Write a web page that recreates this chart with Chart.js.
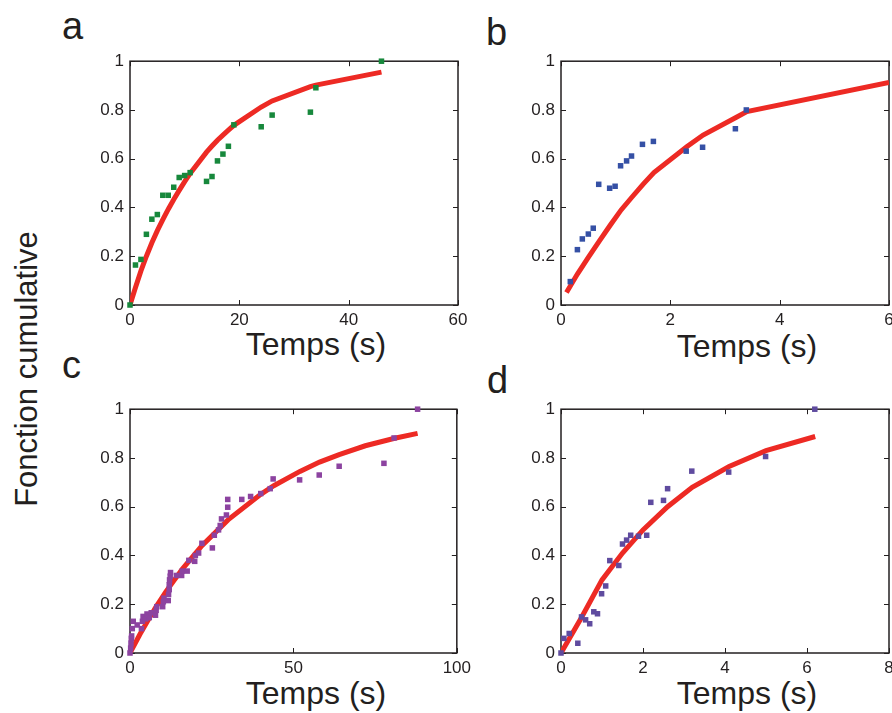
<!DOCTYPE html>
<html>
<head>
<meta charset="utf-8">
<script src="https://cdn.jsdelivr.net/npm/chart.js@4/dist/chart.umd.min.js"></script>
<style>
  body { margin: 0; width: 892px; height: 713px; overflow: hidden; background: #fff; font-family: 'Liberation Sans', Arial, sans-serif; color: #231f20; }
  .panel { position: absolute; }
  .letter { position: absolute; font-size: 38px; line-height: 1; }
  .xlab { position: absolute; width: 200px; margin-left: -100px; text-align: center; font-size: 32px; line-height: 1; }
  #ylab { position: absolute; left: 26px; top: 369px; font-size: 31px; line-height: 1; white-space: nowrap; transform: translate(-50%, -50%) rotate(-90deg); }
</style>
</head>
<body>
<div class="letter" style="left:62px;top:7px">a</div>
<div class="letter" style="left:486px;top:13px">b</div>
<div class="letter" style="left:62px;top:346px">c</div>
<div class="letter" style="left:487px;top:361px">d</div>
<div id="ylab">Fonction cumulative</div>
<div class="xlab" style="left:316px;top:328px">Temps (s)</div>
<div class="xlab" style="left:747px;top:330px">Temps (s)</div>
<div class="xlab" style="left:316px;top:677px">Temps (s)</div>
<div class="xlab" style="left:747px;top:677px">Temps (s)</div>

<div class="panel" style="left:90px;top:45px"><canvas id="chart-a" width="386" height="290"></canvas></div>
<div class="panel" style="left:521px;top:45px"><canvas id="chart-b" width="386" height="290"></canvas></div>
<div class="panel" style="left:90px;top:393px"><canvas id="chart-c" width="386" height="290"></canvas></div>
<div class="panel" style="left:521px;top:393px"><canvas id="chart-d" width="386" height="290"></canvas></div>

<script>
// panel a - measured points
const timeA = [0, 1, 2, 3, 4, 5, 6, 7, 8, 9, 10, 11, 14, 15, 16, 17, 18, 19, 24, 26, 33, 34, 46];
const cumA = [0, 0.164, 0.187, 0.29, 0.352, 0.371, 0.45, 0.45, 0.483, 0.523, 0.531, 0.543, 0.507, 0.527, 0.591, 0.619, 0.651, 0.739, 0.731, 0.779, 0.791, 0.891, 1.0];
const fitTimeA = [0, 1, 2, 3, 4, 5, 6, 7, 8, 9, 10, 11, 14, 15, 16, 17, 18, 19, 24, 26, 33, 34, 46];
const fitA = [0, 0.072, 0.14, 0.2, 0.255, 0.305, 0.35, 0.393, 0.433, 0.47, 0.506, 0.54, 0.627, 0.652, 0.676, 0.697, 0.717, 0.737, 0.812, 0.837, 0.896, 0.902, 0.955];

// panel b
const timeB = [0.17, 0.3, 0.39, 0.5, 0.59, 0.69, 0.89, 0.99, 1.09, 1.2, 1.29, 1.49, 1.69, 2.29, 2.59, 3.19, 3.39];
const cumB = [0.096, 0.227, 0.271, 0.291, 0.315, 0.495, 0.479, 0.487, 0.571, 0.591, 0.611, 0.659, 0.671, 0.631, 0.647, 0.723, 0.8];
const fitTimeB = [0.1, 0.3, 0.5, 0.7, 0.9, 1.1, 1.3, 1.5, 1.7, 2.3, 2.6, 3.2, 3.4, 6];
const fitB = [0.051, 0.127, 0.195, 0.262, 0.327, 0.39, 0.443, 0.495, 0.543, 0.649, 0.697, 0.769, 0.793, 0.913];

// panel c
const timeC = [0, 0.2, 0.3, 0.4, 0.5, 0.7, 1.0, 2.2, 3.5, 3.8, 4.0, 4.8, 5.2, 5.9, 6.5, 7.8, 8.0, 8.2, 10.0, 10.2, 10.4,
  11.7, 11.8, 12.0, 12.0, 12.1, 12.3, 12.4, 14.2, 15.8, 16.0, 17.5, 18.0, 19.8, 20.0, 21, 22, 25.2, 25.8, 27.1, 27.6,
  28, 29.5, 29.9, 29.9, 34.2, 36.9, 40, 42.9, 43.8, 51.9, 57.9, 64, 77.7, 80.8, 88];
const cumC = [0, 0.02, 0.04, 0.06, 0.07, 0.10, 0.13, 0.115, 0.10, 0.13, 0.15, 0.14, 0.16, 0.145, 0.165, 0.155, 0.175, 0.19, 0.19, 0.21, 0.225,
  0.215, 0.24, 0.26, 0.28, 0.30, 0.315, 0.33, 0.318, 0.318, 0.336, 0.336, 0.38, 0.376, 0.40, 0.41, 0.45, 0.431, 0.483, 0.505, 0.523,
  0.55, 0.566, 0.598, 0.63, 0.63, 0.642, 0.654, 0.674, 0.714, 0.71, 0.73, 0.766, 0.778, 0.882, 1.0];
const fitTimeC = [0, 3, 6, 8, 11, 16, 22, 30, 40, 44, 52, 58, 64, 72, 81, 88];
const fitC = [0, 0.076, 0.146, 0.19, 0.252, 0.344, 0.44, 0.546, 0.651, 0.686, 0.745, 0.783, 0.814, 0.85, 0.881, 0.901];

// panel d
const timeD = [0, 0.07, 0.2, 0.41, 0.5, 0.6, 0.7, 0.8, 0.89, 0.99, 1.09, 1.19, 1.41, 1.5, 1.6, 1.7, 1.89, 2.09, 2.19, 2.5, 2.6, 3.19, 4.09, 4.99, 6.19];
const cumD = [0, 0.06, 0.08, 0.04, 0.148, 0.136, 0.12, 0.169, 0.161, 0.243, 0.275, 0.379, 0.359, 0.447, 0.463, 0.483, 0.479, 0.483, 0.618, 0.626, 0.674, 0.746, 0.742, 0.806, 1.0];
const fitTimeD = [0, 0.5, 1, 1.5, 2, 2.6, 3.2, 4.1, 5, 6.2];
const fitD = [0, 0.146, 0.3, 0.41, 0.505, 0.6, 0.68, 0.765, 0.83, 0.888];

const yTicks = [0, 0.2, 0.4, 0.6, 0.8, 1];
const yTickLabels = ['0', '0.2', '0.4', '0.6', '0.8', '1'];

function toPoints(xs, ys) {
    return xs.map((x, i) => ({ x: x, y: ys[i] }));
}

// matlab style box with inward ticks on all sides
const boxPlugin = {
    id: 'box',
    beforeDatasetsDraw(chart) {
        const { ctx, chartArea: a, scales } = chart;
        ctx.save();
        ctx.strokeStyle = '#231f20';
        ctx.lineWidth = 1.5;
        ctx.strokeRect(a.left, a.top, a.right - a.left, a.bottom - a.top);
        ctx.lineWidth = 1;
        ctx.beginPath();
        scales.x.ticks.forEach(t => {
            const px = Math.round(scales.x.getPixelForValue(t.value)) + 0.5;
            ctx.moveTo(px, a.bottom); ctx.lineTo(px, a.bottom - 5);
            ctx.moveTo(px, a.top); ctx.lineTo(px, a.top + 5);
        });
        scales.y.ticks.forEach(t => {
            const py = Math.round(scales.y.getPixelForValue(t.value)) + 0.5;
            ctx.moveTo(a.left, py); ctx.lineTo(a.left + 5, py);
            ctx.moveTo(a.right, py); ctx.lineTo(a.right - 5, py);
        });
        ctx.stroke();
        ctx.restore();
    }
};

function makePanel(id, xs, ys, fitXs, fitYs, color, xMax, xStep) {
    const tickFont = { family: "'Liberation Sans', Arial, sans-serif", size: 17 };
    new Chart(document.getElementById(id), {
        type: 'scatter',
        data: {
            datasets: [{
                data: toPoints(xs, ys),
                backgroundColor: color,
                borderWidth: 0,
                pointStyle: 'rect',
                pointRadius: 3.9,
                pointHoverRadius: 3.9,
                clip: false
            }, {
                data: toPoints(fitXs, fitYs),
                showLine: true,
                borderColor: '#ed2a24',
                borderWidth: 5,
                pointRadius: 0,
                pointHoverRadius: 0,
                tension: 0,
                fill: false
            }]
        },
        options: {
            responsive: false,
            animation: false,
            events: [],
            plugins: { legend: { display: false }, tooltip: { enabled: false } },
            layout: { padding: { top: 10, right: 18, left: 0, bottom: 0 } },
            scales: {
                x: {
                    type: 'linear', min: 0, max: xMax,
                    ticks: { stepSize: xStep, color: '#231f20', font: tickFont, padding: 5, maxRotation: 0 },
                    grid: { display: false, drawTicks: false },
                    border: { display: false },
                    afterFit: s => { s.height = 30; }
                },
                y: {
                    type: 'linear', min: 0, max: 1,
                    afterBuildTicks: s => { s.ticks = yTicks.map(v => ({ value: v })); },
                    ticks: {
                        color: '#231f20', font: tickFont, padding: 6,
                        callback: (v, i) => yTickLabels[i]
                    },
                    grid: { display: false, drawTicks: false },
                    border: { display: false },
                    afterFit: s => { s.width = 40; }
                }
            }
        },
        plugins: [boxPlugin]
    });
}

makePanel('chart-a', timeA, cumA, fitTimeA, fitA, '#17883c', 60, 20);
makePanel('chart-b', timeB, cumB, fitTimeB, fitB, '#3550a5', 6, 2);
makePanel('chart-c', timeC, cumC, fitTimeC, fitC, '#8c43a0', 100, 50);
makePanel('chart-d', timeD, cumD, fitTimeD, fitD, '#5f4b9f', 8, 2);
</script>
</body>
</html>
